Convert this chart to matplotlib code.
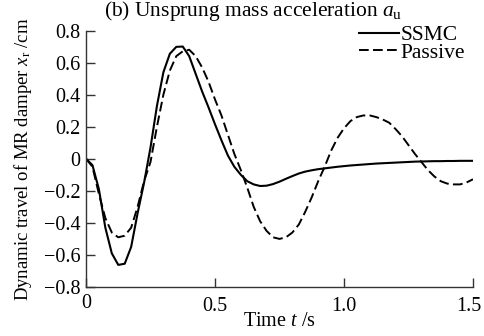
import matplotlib
matplotlib.use("Agg")
import matplotlib.pyplot as plt
import matplotlib.transforms as mtransforms
import numpy as np

t = [0.000, 0.025, 0.050, 0.075, 0.100, 0.125, 0.150, 0.175, 0.200, 0.225,
     0.250, 0.275, 0.300, 0.325, 0.350, 0.375, 0.400, 0.425, 0.450, 0.475,
     0.500, 0.525, 0.550, 0.575, 0.600, 0.625, 0.650, 0.675, 0.700, 0.725,
     0.750, 0.775, 0.800, 0.825, 0.850, 0.875, 0.900, 0.925, 0.950, 0.975,
     1.000, 1.025, 1.050, 1.075, 1.100, 1.125, 1.150, 1.175, 1.200, 1.225,
     1.250, 1.275, 1.300, 1.325, 1.350, 1.375, 1.400, 1.425, 1.450, 1.475,
     1.500]

ssmc = [0.000, -0.040, -0.190, -0.430, -0.590, -0.662, -0.655, -0.550, -0.340, -0.150,
        0.070, 0.330, 0.540, 0.655, 0.698, 0.700, 0.640, 0.530, 0.420, 0.320,
        0.215, 0.115, 0.020, -0.050, -0.100, -0.140, -0.160, -0.170, -0.168, -0.158,
        -0.143, -0.125, -0.108, -0.092, -0.080, -0.072, -0.065, -0.060, -0.055, -0.050,
        -0.046, -0.042, -0.039, -0.036, -0.033, -0.030, -0.028, -0.026, -0.024, -0.022,
        -0.020, -0.018, -0.017, -0.016, -0.015, -0.015, -0.014, -0.014, -0.013, -0.013,
        -0.013]

passive = [0.000, -0.050, -0.220, -0.370, -0.460, -0.490, -0.480, -0.430, -0.300, -0.140,
           -0.020, 0.200, 0.400, 0.550, 0.640, 0.670, 0.680, 0.640, 0.570, 0.480,
           0.370, 0.270, 0.150, 0.030, -0.070, -0.180, -0.300, -0.390, -0.450, -0.490,
           -0.500, -0.490, -0.460, -0.410, -0.330, -0.240, -0.140, -0.050, 0.050, 0.130,
           0.190, 0.235, 0.260, 0.270, 0.270, 0.260, 0.245, 0.225, 0.185, 0.140,
           0.085, 0.030, -0.020, -0.070, -0.110, -0.140, -0.155, -0.160, -0.160, -0.148,
           -0.128]

xticks = [0, 0.5, 1.0, 1.5]
xticklabels = ["0", "0.5", "1.0", "1.5"]
yticks = [-0.8, -0.6, -0.4, -0.2, 0, 0.2, 0.4, 0.6, 0.8]
yticklabels = ["\u22120.8", "\u22120.6", "\u22120.4", "\u22120.2", "0", "0.2", "0.4", "0.6", "0.8"]

plt.rcParams['font.family'] = ['Liberation Serif', 'DejaVu Serif']
plt.rcParams['mathtext.fontset'] = 'custom'
plt.rcParams['mathtext.rm'] = 'Liberation Serif'
plt.rcParams['mathtext.it'] = 'Liberation Serif:italic'

fig = plt.figure(figsize=(4.84, 3.36), dpi=100)
ax = fig.add_axes([86/484, 1-287/336, (473-86)/484, (287-30.5)/336])

ax.plot(t, ssmc, color='black', lw=1.5, label='SSMC')
ax.plot(t, passive, color='black', lw=1.4, ls=(0, (5, 2.2)), label='Passive')

ax.set_xlim(0, 1.5)
ax.set_ylim(-0.8, 0.8)
ax.set_xticks(xticks)
ax.set_xticklabels(xticklabels)
ax.set_yticks(yticks)
ax.set_yticklabels(yticklabels)
for s in ['top', 'right']:
    ax.spines[s].set_visible(False)
for s in ['left', 'bottom']:
    ax.spines[s].set_linewidth(1.0)
    ax.spines[s].set_color('#333333')
ax.tick_params(direction='in', length=6.5, width=1.0, labelsize=14.5, color='#333333', pad=4)
ax.tick_params(axis='x', pad=7)

# keep the last x tick label inside the figure
last = ax.get_xticklabels()[-1]
last.set_transform(last.get_transform() +
                   mtransforms.ScaledTranslation(-4/100, 0, fig.dpi_scale_trans))
first = ax.get_xticklabels()[0]
first.set_transform(first.get_transform() +
                    mtransforms.ScaledTranslation(0, 3/100, fig.dpi_scale_trans))

ax.set_xlabel('Time $t$ /s', fontsize=14.5, labelpad=-3)
ax.set_ylabel('Dynamic travel of MR damper $x_\\mathrm{r}$ /cm', fontsize=13.5)
ax.yaxis.set_label_coords(-0.135, 0.5)

fig.text(253/484, 1-16/336, '(b) Unsprung mass acceleration $a_\\mathrm{u}$',
         ha='center', va='baseline', fontsize=15.5)

leg = ax.legend(loc='upper right', bbox_to_anchor=(0.979, 1.02), frameon=False,
                fontsize=15.5, handlelength=1.85, handletextpad=0.08, labelspacing=-0.12,
                borderaxespad=0.0, borderpad=0.0)

fig.savefig('out.png', dpi=100)
